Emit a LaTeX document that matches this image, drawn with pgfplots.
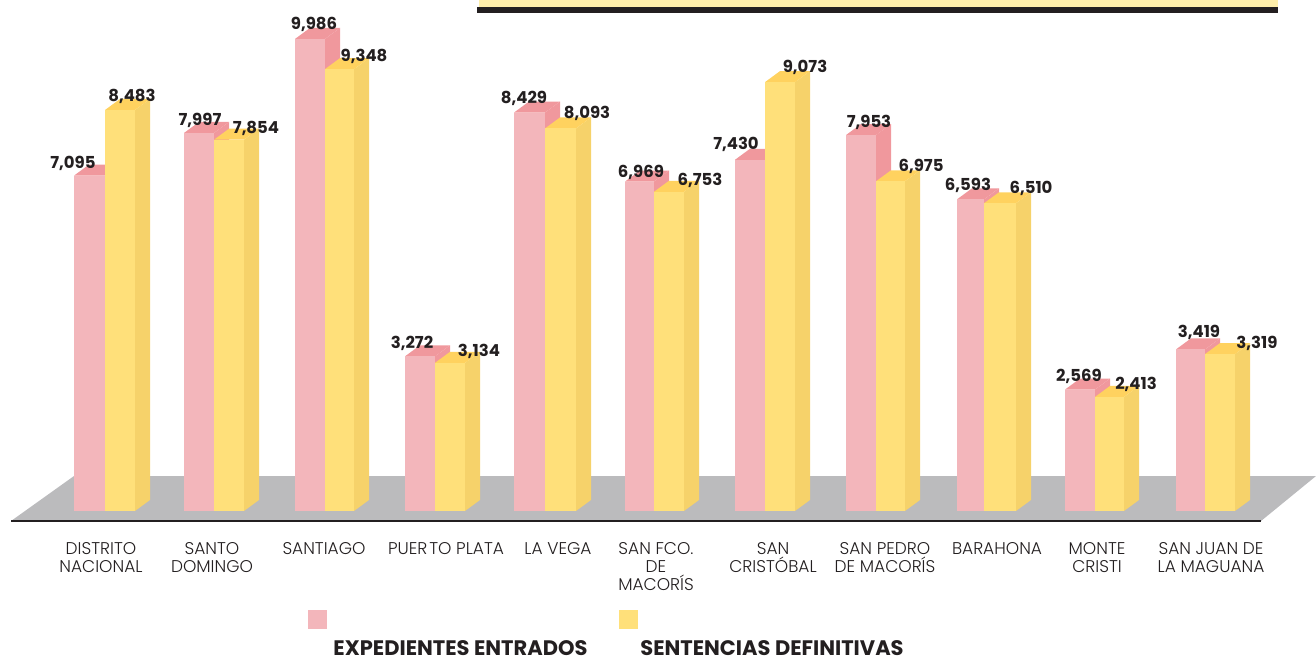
\documentclass[border=0pt]{standalone}
\usepackage{fontspec}
\usepackage{pgfplots}
\pgfplotsset{compat=1.18}
\setmainfont{Poppins}
\newfontfamily\catfont{Poppins Light}
\definecolor{pinkF}{HTML}{F3B6BB}
\definecolor{pinkS}{HTML}{F0989D}
\definecolor{yelF}{HTML}{FFE07A}
\definecolor{yelS}{HTML}{F6D26A}
\definecolor{yelT}{HTML}{FFD25F}
\definecolor{floorc}{HTML}{BBBBBD}
\definecolor{inkc}{HTML}{231F20}
\definecolor{bandc}{HTML}{FEEEAA}
% one bar: left, right, value, front, side, top
\newcommand{\cube}[6]{%
  \pgfmathsetmacro\xa{#1+15}\pgfmathsetmacro\xb{#2+15}%
  \pgfmathsetmacro\vb{#3+233}\pgfmathsetmacro\bw{#2-#1}\pgfmathsetmacro\xc{(#1+#2)/2}%
  \addplot[fill=#5,draw=none] coordinates {(#2,0)(\xb,233)(\xb,\vb)(#2,#3)} -- cycle;
  \addplot[fill=#6,draw=none] coordinates {(#1,#3)(#2,#3)(\xb,\vb)(\xa,\vb)} -- cycle;
  % options are read at the end of the axis, so the width has to be expanded here
  \edef\tmp{\noexpand\addplot[ybar,bar shift=0pt,bar width=\bw pt,fill=#4,draw=none] coordinates {(\xc,#3)};}\tmp
}
% value label, centre x and y in pixels of the page
\newcommand{\val}[3]{%
  \pgfmathsetmacro\vy{(511-#2)/0.04727}%
  \edef\tmp{\noexpand\node[font=\noexpand\fontsize{16.5}{18}\noexpand\selectfont\noexpand\bfseries,text=inkc,inner sep=0pt] at (axis cs:#1,\vy) {#3};}\tmp
}
\begin{document}
\begin{tikzpicture}
\begin{axis}[
  scale only axis, width=1316pt, height=521pt,
  xmin=0, xmax=1316, ymin=-211.55, ymax=10810.2,
  axis y line=none, axis x line=bottom,
  x axis line style={draw=none}, tick style={draw=none},
  clip=false,
  xtick={101,212,324,446,558,656,773,885,997,1097,1211},
  xticklabels={{DISTRITO\\NACIONAL},{SANTO\\DOMINGO},SANTIAGO,PUER\kern2pt TO PLATA,LA VEGA,{SAN FCO.\\DE\\MACORÍS},{SAN\\CRISTÓBAL},{SAN PEDRO\\DE MACORÍS},BARAHONA,{MONTE\\CRISTI},{SAN JUAN DE\\LA MAGUANA}},
  x tick label style={font=\catfont\fontsize{17}{18}\selectfont,align=center,anchor=north,text=inkc,yshift=-16pt},
]
% floor
\addplot[fill=floorc,draw=none] coordinates {(11,-211.55)(74,740)(1316,740)(1261,-211.55)} -- cycle;
\addplot[draw=inkc,line width=2.2pt] coordinates {(11,-211.55)(1261,-211.55)};

\cube{74}{105}{7095}{pinkF}{pinkS}{pinkS}
\cube{105}{135}{8483}{yelF}{yelS}{yelT}
\cube{184}{214}{7997}{pinkF}{pinkS}{pinkS}
\cube{214}{244}{7854}{yelF}{yelS}{yelT}
\cube{295}{325}{9986}{pinkF}{pinkS}{pinkS}
\cube{325}{354}{9348}{yelF}{yelS}{yelT}
\cube{405}{435}{3272}{pinkF}{pinkS}{pinkS}
\cube{435}{465}{3134}{yelF}{yelS}{yelT}
\cube{514}{545}{8429}{pinkF}{pinkS}{pinkS}
\cube{545}{576}{8093}{yelF}{yelS}{yelT}
\cube{625}{654}{6969}{pinkF}{pinkS}{pinkS}
\cube{654}{684}{6753}{yelF}{yelS}{yelT}
\cube{735}{765}{7430}{pinkF}{pinkS}{pinkS}
\cube{765}{795}{9073}{yelF}{yelS}{yelT}
\cube{846}{876}{7953}{pinkF}{pinkS}{pinkS}
\cube{876}{905}{6975}{yelF}{yelS}{yelT}
\cube{957}{984}{6593}{pinkF}{pinkS}{pinkS}
\cube{984}{1016}{6510}{yelF}{yelS}{yelT}
\cube{1065}{1095}{2569}{pinkF}{pinkS}{pinkS}
\cube{1095}{1124}{2413}{yelF}{yelS}{yelT}
\cube{1176}{1205}{3419}{pinkF}{pinkS}{pinkS}
\cube{1205}{1235}{3319}{yelF}{yelS}{yelT}

\val{73}{163}{7,095}\val{132}{96}{8,483}
\val{200}{120}{7,997}\val{256}{128}{7,854}
\val{314}{24}{9,986}\val{364}{56}{9,348}
\val{412}{343}{3,272}\val{479}{351}{3,134}
\val{524}{98}{8,429}\val{587}{113}{8,093}
\val{641}{172}{6,969}\val{700}{180}{6,753}
\val{736}{144}{7,430}\val{805}{67}{9,073}
\val{869}{122}{7,953}\val{921}{166}{6,975}
\val{968}{185}{6,593}\val{1031}{188}{6,510}
\val{1079}{376}{2,569}\val{1136}{384}{2,413}
\val{1199}{332}{3,419}\val{1257}{343}{3,319}
\end{axis}
% page-pixel decoration: y = 521 - py
\fill[bandc] (479pt,521pt) rectangle (1278pt,514pt);
\fill[inkc] (477pt,514pt) rectangle (1278pt,508pt);
\fill[pinkF] (308pt,-89pt) rectangle (327pt,-108pt);
\fill[yelF] (619pt,-89pt) rectangle (638pt,-108pt);
\node[font=\fontsize{21}{22}\selectfont\bfseries,text=inkc,inner sep=0pt] at (460.5pt,-127pt) {EXPEDIENTES ENTRADOS};
\node[font=\fontsize{21}{22}\selectfont\bfseries,text=inkc,inner sep=0pt] at (772pt,-127pt) {SENTENCIAS DEFINITIVAS};
\useasboundingbox (0pt,-138pt) rectangle (1316pt,521pt);
\end{tikzpicture}
\end{document}
